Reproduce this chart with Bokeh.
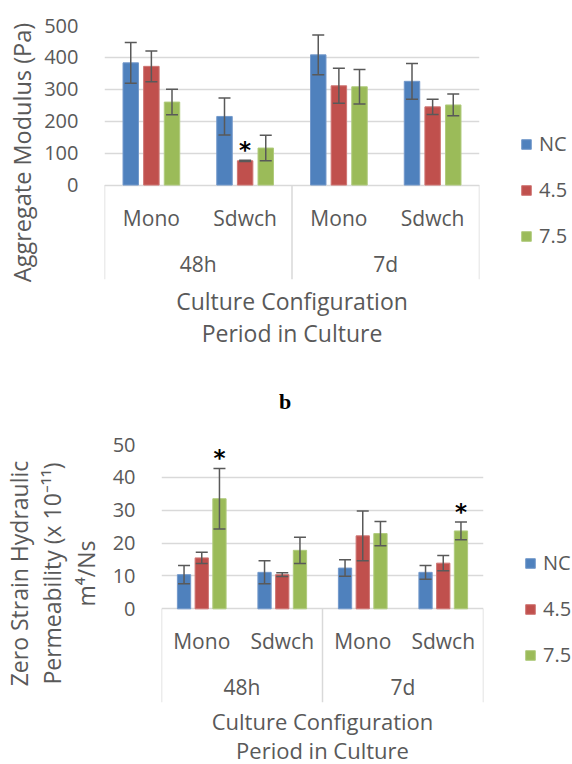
from bokeh.plotting import figure
from bokeh.models import (ColumnDataSource, FactorRange, Range1d, FixedTicker,
                          Whisker, TeeHead, Legend, LegendItem, Div)
from bokeh.transform import dodge
from bokeh.core.properties import value
from bokeh.embed import file_html
from bokeh.resources import INLINE

# ---------------- data ----------------
periods = ["48h", "48h", "7d", "7d"]
configs = ["Mono", "Sdwch", "Mono", "Sdwch"]
period_labels = ["48h", "7d"]
series_names = ["NC", "4.5", "7.5"]

# (a) Aggregate modulus (Pa)
agg_nc = [383, 215, 408, 325]
agg_nc_err = [64, 58, 62, 56]
agg_45 = [372, 76, 311, 245]
agg_45_err = [48, 2, 55, 24]
agg_75 = [260, 116, 308, 251]
agg_75_err = [40, 40, 54, 34]
agg_sig_nc = [False, False, False, False]
agg_sig_45 = [False, True, False, False]
agg_sig_75 = [False, False, False, False]
agg_ticks = [0, 100, 200, 300, 400, 500]

# (b) Zero strain hydraulic permeability (x 10^-11 m^4/Ns)
perm_nc = [10.4, 11.1, 12.4, 11.1]
perm_nc_err = [2.8, 3.5, 2.5, 2.1]
perm_45 = [15.5, 10.4, 22.2, 13.9]
perm_45_err = [1.7, 0.6, 7.6, 2.3]
perm_75 = [33.5, 17.8, 22.9, 23.7]
perm_75_err = [9.2, 4.0, 3.7, 2.7]
perm_sig_nc = [False, False, False, False]
perm_sig_45 = [False, False, False, False]
perm_sig_75 = [True, False, False, True]
perm_ticks = [0, 10, 20, 30, 40, 50]

# ---------------- style ----------------
FILL = ["#4F81BD", "#C0504D", "#9BBB59"]
EDGE = ["#7399CB", "#CF7573", "#B0CB7D"]
OFFS = [-0.22, 0.0, 0.22]
BAR_W = 0.165
GREY = "#595959"
GRID = "#D9D9D9"
FONT = "Open Sans"


def build(vals, errs, sigs, ticks, y_low, ylabel, ylabel_size, ylabel_lh,
          ylabel_standoff, cat_y, per_y, frame_w, frame_h, border_l, border_t,
          border_b, legend_loc, xlabel_size, xlabel_lh, xlabel_standoff):
    factors = list(zip(periods, configs))
    xr = FactorRange(*factors, range_padding=0, group_padding=0,
                     factor_padding=0, subgroup_padding=0)
    p = figure(x_range=xr, y_range=Range1d(y_low, ticks[-1]),
               frame_width=frame_w, frame_height=frame_h,
               min_border_left=border_l, min_border_right=572 - border_l - frame_w,
               min_border_top=border_t, min_border_bottom=border_b,
               output_backend="svg", toolbar_location=None)
    p.outline_line_color = None
    p.background_fill_color = "white"
    p.border_fill_color = "white"

    # grid
    p.xgrid.visible = False
    p.ygrid.ticker = FixedTicker(ticks=ticks)
    p.ygrid.grid_line_color = GRID
    p.ygrid.grid_line_width = 1.5

    # y axis
    ya = p.yaxis[0]
    ya.ticker = FixedTicker(ticks=ticks)
    ya.axis_line_color = None
    ya.major_tick_line_color = None
    ya.minor_tick_line_color = None
    ya.major_label_standoff = 20
    ya.major_label_text_font = FONT
    ya.major_label_text_font_size = "20px"
    ya.major_label_text_color = GREY
    ya.axis_label = ylabel
    ya.axis_label_text_font = FONT
    ya.axis_label_text_font_size = ylabel_size
    ya.axis_label_text_font_style = "normal"
    ya.axis_label_text_color = GREY
    ya.axis_label_text_line_height = ylabel_lh
    ya.axis_label_standoff = ylabel_standoff

    # x axis: only its title is shown; category labels are drawn as text
    xa = p.xaxis[0]
    xa.major_label_text_font_size = "1px"
    xa.major_label_text_color = None
    xa.group_text_font_size = "1px"
    xa.group_text_color = None
    xa.major_tick_line_color = None
    xa.major_tick_out = 0
    xa.major_tick_in = 0
    xa.axis_line_color = None
    xa.separator_line_color = None
    xa.major_label_standoff = 0
    xa.axis_label = "Culture Configuration\nPeriod in Culture"
    xa.axis_label_text_font = FONT
    xa.axis_label_text_font_size = xlabel_size
    xa.axis_label_text_font_style = "normal"
    xa.axis_label_text_color = GREY
    xa.axis_label_text_line_height = xlabel_lh
    xa.axis_label_standoff = xlabel_standoff

    # category separators
    sep_left = ColumnDataSource(dict(bx=[factors[0], factors[2]]))
    sep_right = ColumnDataSource(dict(bx=[factors[3]]))
    for s, off in ((sep_left, -0.5), (sep_right, 0.5)):
        p.segment(x0=dodge("bx", off, range=xr), x1=dodge("bx", off, range=xr),
                  y0=0, y1=y_low, source=s, line_color=GRID, line_width=1.5)

    # category labels
    cat_src = ColumnDataSource(dict(x=factors, lab=configs))
    p.text(x="x", y=cat_y, text="lab", source=cat_src, text_align="center",
           text_baseline="middle", text_font=value(FONT),
           text_font_size="21px", text_color=GREY)
    per_src = ColumnDataSource(dict(x=period_labels, lab=period_labels))
    p.text(x="x", y=per_y, text="lab", source=per_src, text_align="center",
           text_baseline="middle", text_font=value(FONT),
           text_font_size="21px", text_color=GREY)

    # bars + error bars + significance marks
    renderers = []
    for i in range(3):
        v, e, sg = vals[i], errs[i], sigs[i]
        src = ColumnDataSource(dict(
            x=factors, top=v,
            lo=[a - b for a, b in zip(v, e)],
            hi=[a + b for a, b in zip(v, e)]))
        r = p.vbar(x=dodge("x", OFFS[i], range=xr), top="top", width=BAR_W,
                   source=src, fill_color=FILL[i], line_color=EDGE[i],
                   line_width=1)
        renderers.append(r)
        w = Whisker(base=dodge("x", OFFS[i], range=xr), upper="hi", lower="lo",
                    source=src, line_color=GREY, line_width=1.5,
                    upper_head=TeeHead(size=12, line_color=GREY, line_width=1.5),
                    lower_head=TeeHead(size=12, line_color=GREY, line_width=1.5),
                    level="annotation")
        p.add_layout(w)
        sx = [f for f, s in zip(factors, sg) if s]
        shi = [a + b for a, b, s in zip(v, e, sg) if s]
        if sx:
            ssrc = ColumnDataSource(dict(x=sx, y=shi, t=["*"] * len(sx)))
            p.text(x=dodge("x", OFFS[i], range=xr), y="y", text="t",
                   source=ssrc, text_align="center", text_baseline="middle",
                   y_offset=-10, text_font=value("DejaVu Sans"),
                   text_font_style="bold", text_font_size="23px",
                   text_color="black")

    legend = Legend(items=[LegendItem(label=n, renderers=[r])
                           for n, r in zip(series_names, renderers)],
                    location=legend_loc, orientation="vertical",
                    padding=0, margin=0, spacing=19,
                    glyph_width=12, glyph_height=12, label_height=26,
                    label_standoff=7, label_text_font=FONT,
                    label_text_font_size="20px", label_text_color=GREY,
                    border_line_color=None, background_fill_alpha=0)
    p.add_layout(legend, "right")
    return p


p1 = build([agg_nc, agg_45, agg_75], [agg_nc_err, agg_45_err, agg_75_err],
           [agg_sig_nc, agg_sig_45, agg_sig_75], agg_ticks, -296,
           "Aggregate Modulus (Pa)", "23.5px", 1.0, 3,
           -102, -246, 375, 254, 104, 25, 101, (41, 30), "23px", 1.0, 5)

# panel letter "b" between the two charts
panel_b = Div(text="b", width=572, height=40,
              styles={"font-family": "Liberation Serif", "font-size": "22px",
                      "font-weight": "bold", "color": "black",
                      "line-height": "44px", "text-indent": "279px",
                      "margin": "0", "padding": "0", "overflow": "hidden"})

p2 = build([perm_nc, perm_45, perm_75], [perm_nc_err, perm_45_err, perm_75_err],
           [perm_sig_nc, perm_sig_45, perm_sig_75], perm_ticks, -28.5,
           "Zero Strain Hydraulic\nPermeability (x 10\u207b\u00b9\u00b9)\nm\u2074/Ns",
           "23px", 1.04, 8,
           -9.65, -23.9, 322, 258, 157, 24, 62, (41, 34), "22px", 0.97, 3)

open("out.html", "w").write(file_html([p1, panel_b, p2], INLINE))
